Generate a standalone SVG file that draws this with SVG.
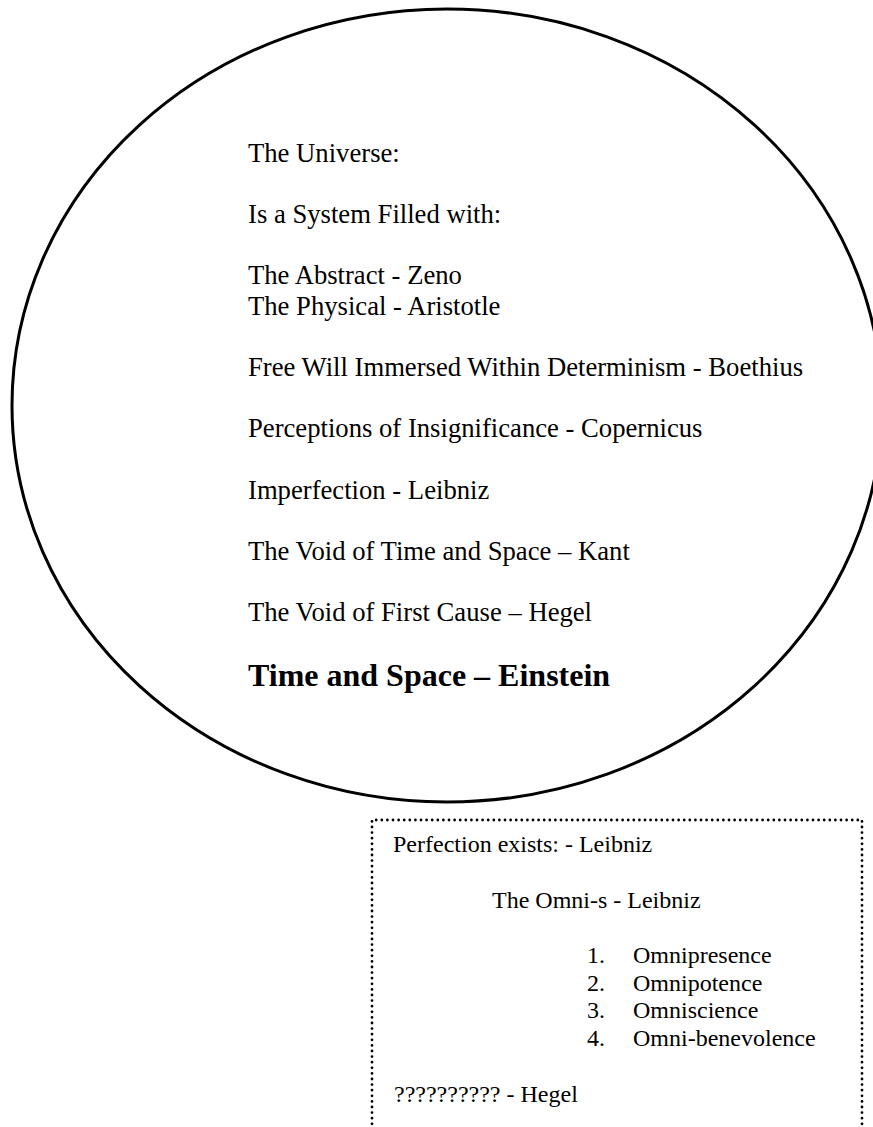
<svg xmlns="http://www.w3.org/2000/svg" width="873" height="1127" viewBox="0 0 873 1127">
<style>
.t{font-family:"Liberation Serif","Times New Roman",serif;font-size:26.67px;fill:#000}
.b{font-family:"Liberation Serif","Times New Roman",serif;font-size:32px;font-weight:bold;fill:#000}
.s{font-family:"Liberation Serif","Times New Roman",serif;font-size:24px;fill:#000}
</style>
<rect width="873" height="1127" fill="#fff"/>
<g id="universe">
<ellipse cx="447" cy="405.5" rx="435" ry="396.5" fill="#fff" stroke="#000" stroke-width="3"/>
<text class="t" x="248" y="161.5">The Universe:</text>
<text class="t" x="248" y="222.8">Is a System Filled with:</text>
<text class="t" x="248" y="284">The Abstract - Zeno</text>
<text class="t" x="248" y="314.7">The Physical - Aristotle</text>
<text class="t" x="248" y="376">Free Will Immersed Within Determinism - Boethius</text>
<text class="t" x="248" y="437.3">Perceptions of Insignificance - Copernicus</text>
<text class="t" x="248" y="498.6">Imperfection - Leibniz</text>
<text class="t" x="248" y="559.9">The Void of Time and Space – Kant</text>
<text class="t" x="248" y="621.2">The Void of First Cause – Hegel</text>
<text class="b" x="248" y="686">Time and Space – Einstein</text>
</g>
<g id="perfection">
<path d="M372,1135 V820 H862 V1135" fill="none" stroke="#000" stroke-width="2.8" stroke-linecap="round" stroke-dasharray="0 5.6"/>
<text class="s" x="393" y="852">Perfection exists: - Leibniz</text>
<text class="s" x="492" y="908">The Omni-s - Leibniz</text>
<text class="s" x="587" y="963">1.</text>
<text class="s" x="633" y="963">Omnipresence</text>
<text class="s" x="587" y="990.6">2.</text>
<text class="s" x="633" y="990.6">Omnipotence</text>
<text class="s" x="587" y="1018.2">3.</text>
<text class="s" x="633" y="1018.2">Omniscience</text>
<text class="s" x="587" y="1045.8">4.</text>
<text class="s" x="633" y="1045.8">Omni-benevolence</text>
<text class="s" x="394" y="1101.7">?????????? - Hegel</text>
</g>
<g id="connectors"/>
</svg>
